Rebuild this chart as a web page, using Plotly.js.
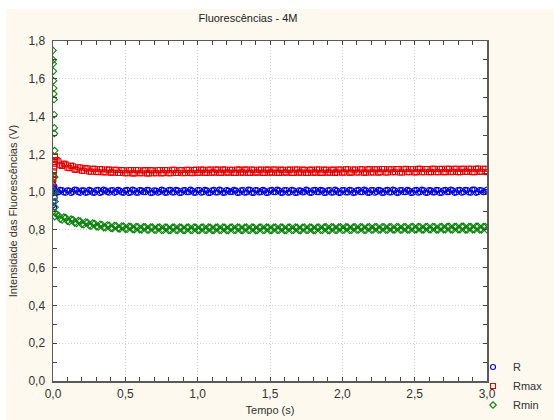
<!DOCTYPE html>
<html>
<head>
<meta charset="utf-8">
<script src="https://cdn.plot.ly/plotly-3.0.1.min.js"></script>
<style>html,body{margin:0;padding:0;background:#fff;}#chart{width:554px;height:420px;}</style>
</head>
<body>
<div id="chart"></div>
<script>
// ---- data ----
const chartTitle = "Fluorescências - 4M";
const xTitle = "Tempo (s)";
const yTitle = "Intensidade das Fluorescências (V)";
const seriesNames = ["R", "Rmax", "Rmin"];

// sample times of the main record (s)
const time = [
0.025,0.05,0.075,0.1,0.125,0.15,0.175,0.2,0.225,0.25,
0.275,0.3,0.325,0.35,0.375,0.4,0.425,0.45,0.475,0.5,
0.525,0.55,0.575,0.6,0.625,0.65,0.675,0.7,0.725,0.75,
0.775,0.8,0.825,0.85,0.875,0.9,0.925,0.95,0.975,1.0,
1.025,1.05,1.075,1.1,1.125,1.15,1.175,1.2,1.225,1.25,
1.275,1.3,1.325,1.35,1.375,1.4,1.425,1.45,1.475,1.5,
1.525,1.55,1.575,1.6,1.625,1.65,1.675,1.7,1.725,1.75,
1.775,1.8,1.825,1.85,1.875,1.9,1.925,1.95,1.975,2.0,
2.025,2.05,2.075,2.1,2.125,2.15,2.175,2.2,2.225,2.25,
2.275,2.3,2.325,2.35,2.375,2.4,2.425,2.45,2.475,2.5,
2.525,2.55,2.575,2.6,2.625,2.65,2.675,2.7,2.725,2.75,
2.775,2.8,2.825,2.85,2.875,2.9,2.925,2.95,2.975,3.0];

// interleaved sample times (s)
const time2 = [
0.0125,0.0375,0.0625,0.0875,0.1125,0.1375,0.1625,0.1875,0.2125,0.2375,
0.2625,0.2875,0.3125,0.3375,0.3625,0.3875,0.4125,0.4375,0.4625,0.4875,
0.5125,0.5375,0.5625,0.5875,0.6125,0.6375,0.6625,0.6875,0.7125,0.7375,
0.7625,0.7875,0.8125,0.8375,0.8625,0.8875,0.9125,0.9375,0.9625,0.9875,
1.0125,1.0375,1.0625,1.0875,1.1125,1.1375,1.1625,1.1875,1.2125,1.2375,
1.2625,1.2875,1.3125,1.3375,1.3625,1.3875,1.4125,1.4375,1.4625,1.4875,
1.5125,1.5375,1.5625,1.5875,1.6125,1.6375,1.6625,1.6875,1.7125,1.7375,
1.7625,1.7875,1.8125,1.8375,1.8625,1.8875,1.9125,1.9375,1.9625,1.9875,
2.0125,2.0375,2.0625,2.0875,2.1125,2.1375,2.1625,2.1875,2.2125,2.2375,
2.2625,2.2875,2.3125,2.3375,2.3625,2.3875,2.4125,2.4375,2.4625,2.4875,
2.5125,2.5375,2.5625,2.5875,2.6125,2.6375,2.6625,2.6875,2.7125,2.7375,
2.7625,2.7875,2.8125,2.8375,2.8625,2.8875,2.9125,2.9375,2.9625,2.9875];

// first instants (transient at t ~ 0)
const tStartR = [0.000,0.002,0.004,0.006,0.008,0.010,0.012,0.014];
const startR  = [0.93,1.04,0.95,1.02,0.92,1.03,0.97,1.00];
const tStartRmax = [0.000,0.002,0.004,0.006,0.008,0.010,0.012,0.014];
const startRmax  = [1.05,1.07,1.09,1.11,1.13,1.15,1.17,1.19];
const tStartRmin = [0.000,0.001,0.002,0.003,0.004,0.005,0.006,0.007,0.008,0.009,0.010,0.011,0.012,0.013,0.014,0.015,0.016];
const startRmin  = [1.75,1.70,1.68,1.64,1.59,1.55,1.52,1.49,1.41,1.34,1.31,1.22,1.08,1.00,0.95,0.92,0.89];

const valR = [
0.996,1.012,0.998,1.010,0.995,1.013,0.999,1.009,0.996,1.012,
0.997,1.011,0.995,1.013,1.000,1.010,0.996,1.012,0.998,1.009,
0.995,1.013,0.997,1.011,0.999,1.012,0.995,1.010,0.997,1.013,
0.996,1.011,0.998,1.012,0.995,1.010,0.999,1.013,0.996,1.011,
0.997,1.012,0.995,1.010,0.998,1.013,0.996,1.011,0.999,1.012,
0.995,1.010,0.997,1.013,0.996,1.011,0.998,1.012,0.995,1.010,
0.999,1.013,0.996,1.011,0.997,1.012,0.995,1.010,0.998,1.013,
0.996,1.011,0.999,1.012,0.995,1.010,0.997,1.013,0.996,1.011,
0.998,1.012,0.995,1.010,0.999,1.013,0.996,1.011,0.997,1.012,
0.995,1.010,0.998,1.013,0.996,1.011,0.999,1.012,0.995,1.010,
0.997,1.013,0.996,1.011,0.998,1.012,0.995,1.010,0.999,1.013,
0.996,1.011,0.997,1.012,0.998,1.013,0.996,1.011,0.999,1.014];
const valR2 = [
1.009,0.999,1.011,0.997,1.008,1.000,1.012,0.996,1.010,0.998,
1.008,0.996,1.012,0.999,1.009,0.997,1.011,1.000,1.008,0.996,
1.012,0.998,1.010,0.997,1.009,0.999,1.011,0.996,1.008,1.000,
1.010,0.997,1.012,0.998,1.009,0.996,1.011,0.999,1.008,0.997,
1.011,0.999,1.009,0.996,1.012,0.998,1.010,0.997,1.008,1.000,
1.009,0.997,1.011,0.998,1.012,0.996,1.010,0.999,1.008,0.997,
1.012,0.999,1.009,0.996,1.011,0.998,1.010,0.997,1.008,1.000,
1.010,0.996,1.012,0.999,1.009,0.997,1.011,0.998,1.008,0.996,
1.011,0.998,1.010,0.997,1.012,0.999,1.009,0.996,1.011,1.000,
1.009,0.997,1.012,0.998,1.010,0.996,1.011,0.999,1.008,0.997,
1.012,0.999,1.010,0.996,1.009,0.998,1.011,0.997,1.012,1.000,
1.010,0.998,1.012,0.999,1.011,0.997,1.013,0.999,1.010,1.001];

const valRmax = [
1.170,1.142,1.151,1.129,1.140,1.119,1.132,1.113,1.127,1.109,
1.124,1.107,1.122,1.105,1.120,1.103,1.118,1.101,1.117,1.100,
1.116,1.099,1.117,1.100,1.115,1.099,1.117,1.100,1.116,1.099,
1.117,1.100,1.118,1.101,1.116,1.100,1.118,1.102,1.117,1.101,
1.119,1.102,1.118,1.103,1.120,1.102,1.119,1.103,1.118,1.102,
1.120,1.103,1.119,1.102,1.120,1.103,1.118,1.102,1.119,1.103,
1.120,1.102,1.119,1.103,1.118,1.102,1.120,1.103,1.119,1.102,
1.118,1.103,1.120,1.102,1.119,1.103,1.118,1.102,1.120,1.103,
1.121,1.103,1.120,1.104,1.121,1.103,1.120,1.104,1.121,1.103,
1.122,1.104,1.121,1.105,1.122,1.104,1.121,1.105,1.122,1.104,
1.123,1.105,1.122,1.106,1.123,1.105,1.122,1.106,1.123,1.105,
1.124,1.106,1.123,1.107,1.124,1.106,1.123,1.107,1.124,1.106];
const valRmax2 = [
1.160,1.163,1.139,1.147,1.127,1.137,1.119,1.130,1.113,1.125,
1.108,1.123,1.106,1.121,1.104,1.119,1.103,1.118,1.101,1.116,
1.100,1.117,1.099,1.116,1.100,1.117,1.099,1.115,1.100,1.117,
1.101,1.116,1.100,1.118,1.102,1.117,1.101,1.118,1.100,1.119,
1.103,1.118,1.102,1.120,1.103,1.119,1.102,1.120,1.103,1.118,
1.102,1.119,1.103,1.120,1.102,1.118,1.103,1.120,1.102,1.119,
1.103,1.120,1.102,1.118,1.103,1.119,1.102,1.120,1.103,1.118,
1.102,1.119,1.103,1.120,1.102,1.118,1.103,1.119,1.104,1.120,
1.104,1.121,1.103,1.120,1.104,1.121,1.103,1.122,1.104,1.121,
1.105,1.122,1.104,1.121,1.105,1.122,1.104,1.123,1.105,1.122,
1.106,1.123,1.105,1.122,1.106,1.123,1.105,1.124,1.106,1.123,
1.107,1.124,1.106,1.123,1.107,1.124,1.106,1.125,1.107,1.124];

const valRmin = [
0.882,0.857,0.868,0.846,0.857,0.837,0.849,0.829,0.842,0.823,
0.836,0.817,0.830,0.812,0.826,0.808,0.823,0.806,0.821,0.804,
0.819,0.802,0.818,0.801,0.816,0.799,0.815,0.799,0.814,0.798,
0.815,0.797,0.814,0.798,0.815,0.797,0.814,0.798,0.815,0.797,
0.814,0.798,0.815,0.797,0.814,0.798,0.815,0.797,0.814,0.798,
0.815,0.797,0.814,0.798,0.815,0.797,0.814,0.798,0.815,0.797,
0.814,0.798,0.815,0.797,0.814,0.798,0.815,0.797,0.814,0.798,
0.815,0.797,0.814,0.798,0.815,0.797,0.816,0.798,0.815,0.798,
0.816,0.798,0.815,0.799,0.816,0.798,0.815,0.799,0.816,0.799,
0.817,0.799,0.816,0.800,0.817,0.799,0.816,0.800,0.817,0.800,
0.818,0.800,0.817,0.801,0.818,0.800,0.817,0.801,0.818,0.801,
0.818,0.801,0.819,0.800,0.818,0.801,0.819,0.800,0.818,0.801];
const valRmin2 = [
0.870,0.878,0.852,0.865,0.843,0.855,0.834,0.847,0.827,0.840,
0.820,0.834,0.815,0.829,0.811,0.825,0.808,0.822,0.805,0.820,
0.803,0.818,0.801,0.817,0.800,0.816,0.799,0.815,0.798,0.815,
0.798,0.814,0.797,0.815,0.798,0.814,0.797,0.815,0.798,0.814,
0.797,0.815,0.798,0.814,0.797,0.815,0.798,0.814,0.797,0.815,
0.798,0.814,0.797,0.815,0.798,0.814,0.797,0.815,0.798,0.814,
0.797,0.815,0.798,0.814,0.797,0.815,0.798,0.814,0.797,0.815,
0.798,0.814,0.797,0.815,0.798,0.816,0.797,0.815,0.798,0.816,
0.799,0.815,0.798,0.816,0.799,0.815,0.798,0.816,0.799,0.817,
0.800,0.816,0.799,0.817,0.800,0.816,0.799,0.817,0.800,0.818,
0.801,0.817,0.800,0.818,0.801,0.817,0.800,0.818,0.801,0.819,
0.800,0.818,0.801,0.819,0.800,0.818,0.801,0.819,0.800,0.818];

const xTickVals = [0, 0.5, 1.0, 1.5, 2.0, 2.5, 3.0];
const yTickVals = [0, 0.2, 0.4, 0.6, 0.8, 1.0, 1.2, 1.4, 1.6, 1.8];

// ---- styling ----
const W = 554, H = 420;
const M = {l: 53, r: 67, t: 41, b: 39, autoexpand: false};
const PW = W - M.l - M.r, PH = H - M.t - M.b;
const px2x = p => (p - M.l) / PW;
const py2y = p => (H - M.b - p) / PH;
const FONT = "Liberation Sans, Arial, sans-serif";
const cream = "#fdf9ee";

function mk(name, xs, ys, color, symbol) {
  return {
    type: "scatter", mode: "markers", name: name, x: xs, y: ys,
    marker: {symbol: symbol, size: 5, color: color, line: {color: color, width: 1.1}},
    cliponaxis: true
  };
}

const traces = [
  mk(seriesNames[0], tStartR.concat(time, time2), startR.concat(valR, valR2), "#0000e6", "circle-open"),
  mk(seriesNames[1], tStartRmax.concat(time, time2), startRmax.concat(valRmax, valRmax2), "#e60000", "square-open"),
  mk(seriesNames[2], tStartRmin.concat(time, time2), startRmin.concat(valRmin, valRmin2), "#0a840a", "diamond-open")
];

const axisCommon = {
  showline: true, linecolor: "#5a5a5a", linewidth: 1.5, mirror: "ticks",
  ticks: "inside", ticklen: 4, tickcolor: "#444", tickwidth: 1,
  showgrid: true, gridcolor: "#d2d2d2", griddash: "1px,2px", gridwidth: 1,
  zeroline: false, tickformat: ".1f", automargin: false, ticklabelstandoff: 4,
  tickfont: {family: FONT, size: 12, color: "#333"}
};

const layout = {
  width: W, height: H,
  margin: M,
  paper_bgcolor: cream, plot_bgcolor: "#ffffff",
  separators: ",.",
  font: {family: FONT, color: "#333"},
  title: {text: chartTitle, font: {family: FONT, size: 11, color: "#222"},
          x: px2x(248), xref: "paper", xanchor: "center",
          y: 1 - 18 / H, yref: "container", yanchor: "middle"},
  xaxis: Object.assign({}, axisCommon, {
    range: [0, 3.0], tickvals: xTickVals, ticklabelstandoff: 1,
    minor: {dtick: 0.1, tick0: 0, ticks: "inside", ticklen: 4, tickcolor: "#444", showgrid: false},
    title: {text: xTitle, font: {family: FONT, size: 11, color: "#333"}, standoff: 6}
  }),
  yaxis: Object.assign({}, axisCommon, {
    range: [0, 1.8], tickvals: yTickVals,
    minor: {dtick: 0.1, tick0: 0, ticks: "inside", ticklen: 4, tickcolor: "#444", showgrid: false},
    title: {text: yTitle, font: {family: FONT, size: 11, color: "#333"}, standoff: 8}
  }),
  showlegend: true,
  legend: {x: px2x(473), xanchor: "left", y: py2y(386), yanchor: "middle",
           bgcolor: "rgba(0,0,0,0)", borderwidth: 0,
           font: {family: FONT, size: 11, color: "#333"}, itemwidth: 30,
           tracegroupgap: 0},
  shapes: [
    {type: "rect", xref: "paper", yref: "paper", x0: px2x(0), x1: px2x(6), y0: py2y(H), y1: py2y(0),
     fillcolor: "#ffffff", line: {width: 0}, layer: "below"},
    {type: "rect", xref: "paper", yref: "paper", x0: px2x(0), x1: px2x(W), y0: py2y(9), y1: py2y(0),
     fillcolor: "#ffffff", line: {width: 0}, layer: "below"}
  ]
};

Plotly.newPlot("chart", traces, layout, {displayModeBar: false, staticPlot: true});
</script>
</body>
</html>
